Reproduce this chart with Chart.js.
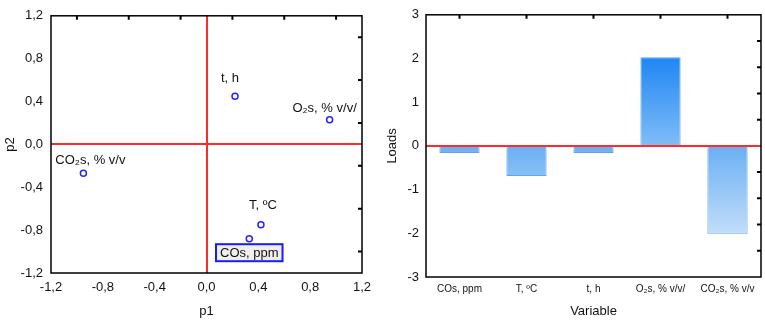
<!DOCTYPE html>
<html>
<head>
<meta charset="utf-8">
<script src="https://cdn.jsdelivr.net/npm/chart.js@4.4.1/dist/chart.umd.min.js"></script>
<style>
html,body{margin:0;padding:0;background:#fff;}
#wrap{position:relative;width:765px;height:320px;overflow:hidden;}
#c1{position:absolute;left:0;top:0;}
#c2{position:absolute;left:380px;top:0;}
</style>
</head>
<body>
<div id="wrap">
<canvas id="c1" width="380" height="320"></canvas>
<canvas id="c2" width="385" height="320"></canvas>
</div>
<script>
// ---- data ----
const variables = ["COs, ppm", "T, ºC", "t, h", "O₂s, % v/v/", "CO₂s, % v/v"];
const p1Values = [0.33, 0.42, 0.22, 0.95, -0.95];
const p2Values = [-0.88, -0.75, 0.45, 0.23, -0.27];
const loads = [-0.16, -0.69, -0.16, 2.03, -2.01];
const scatterMinorTicks = [-1.0, -0.6, -0.2, 0.2, 0.6, 1.0];
const loadsMinorTicks = [-2.4, -1.8, -1.2, -0.6, 0.6, 1.2, 1.8, 2.4];

const FONT = "'Liberation Sans', Arial, sans-serif";
Chart.defaults.font.family = FONT;
Chart.defaults.color = '#111';
Chart.defaults.animation = false;

const comma = v => (Math.abs(v) < 1e-9 ? 0 : v).toFixed(1).replace('.', ',');

// ---- frame + inner ticks plugin ----
function framePlugin(opts) {
  return {
    id: 'frame_' + opts.id,
    beforeDatasetsDraw(chart) {
      const ctx = chart.ctx, a = chart.chartArea;
      const xs = chart.scales.x, ys = chart.scales.y;
      ctx.save();
      if (opts.redBehind) {
        ctx.strokeStyle = '#ff2b2b'; ctx.lineWidth = 2;
        ctx.beginPath();
        const x0 = Math.round(xs.getPixelForValue(0)), y0 = Math.round(ys.getPixelForValue(0));
        ctx.moveTo(x0, a.top); ctx.lineTo(x0, a.bottom);
        ctx.moveTo(a.left, y0); ctx.lineTo(a.right, y0);
        ctx.stroke();
      }
      ctx.restore();
    },
    afterDatasetsDraw(chart) {
      const ctx = chart.ctx, a = chart.chartArea;
      const xs = chart.scales.x, ys = chart.scales.y;
      ctx.save();
      if (opts.redFront) {
        ctx.strokeStyle = '#ff2b2b'; ctx.lineWidth = 2;
        const y0 = Math.round(ys.getPixelForValue(0));
        ctx.beginPath(); ctx.moveTo(a.left, y0); ctx.lineTo(a.right, y0); ctx.stroke();
      }
      ctx.strokeStyle = '#000'; ctx.lineWidth = 1.5;
      ctx.strokeRect(a.left, a.top, a.right - a.left, a.bottom - a.top);
      ctx.lineWidth = 2;
      ctx.beginPath();
      opts.topTicks(chart).forEach(px => { ctx.moveTo(px, a.top); ctx.lineTo(px, a.top + 4); });
      opts.rightTicks.forEach(v => { const py = ys.getPixelForValue(v); ctx.moveTo(a.right, py); ctx.lineTo(a.right - 4, py); });
      ctx.stroke();
      ctx.restore();
    }
  };
}

// ---- scatter labels plugin ----
const labelPlugin = {
  id: 'pointLabels',
  afterDatasetsDraw(chart) {
    const ctx = chart.ctx;
    const meta = chart.getDatasetMeta(0);
    // placement offsets relative to each point (styling, not data)
    const place = [
      {dx: 0, dy: 14, boxed: true},
      {dx: 2, dy: -20},
      {dx: -5, dy: -18},
      {dx: -5, dy: -12},
      {dx: 7, dy: -13}
    ];
    ctx.save();
    ctx.font = '13px ' + FONT;
    ctx.textAlign = 'center';
    ctx.textBaseline = 'middle';
    meta.data.forEach((pt, i) => {
      const p = place[i];
      const x = pt.x + p.dx, y = pt.y + p.dy;
      const txt = variables[i];
      if (p.boxed) {
        const w = ctx.measureText(txt).width + 8, h = 17;
        ctx.fillStyle = '#efefef';
        ctx.fillRect(x - w / 2, y - h / 2, w, h);
        ctx.strokeStyle = '#1a1aff'; ctx.lineWidth = 2;
        ctx.strokeRect(x - w / 2, y - h / 2, w, h);
      }
      ctx.fillStyle = '#111';
      ctx.fillText(txt, x, y + 0.5);
    });
    ctx.restore();
  }
};

// ---- left: scatter p1/p2 ----
new Chart(document.getElementById('c1'), {
  type: 'scatter',
  data: {
    datasets: [{
      data: p1Values.map((v, i) => ({x: v, y: p2Values[i]})),
      pointRadius: 3,
      pointBorderWidth: 1.5,
      pointBorderColor: '#2424ff',
      pointBackgroundColor: '#ffffff'
    }]
  },
  options: {
    responsive: false,
    devicePixelRatio: 1,
    layout: {padding: {left: 0, top: 8, right: 18, bottom: 0}},
    plugins: {legend: {display: false}, tooltip: {enabled: false}},
    scales: {
      x: {
        type: 'linear', min: -1.2, max: 1.2,
        grid: {display: false, drawTicks: false}, border: {display: false},
        ticks: {stepSize: 0.4, padding: 7, font: {size: 13}, callback: comma},
        title: {display: true, text: 'p1', font: {size: 13}, padding: {top: 0, bottom: 1}},
        afterFit: s => { s.height = 47; }
      },
      y: {
        type: 'linear', min: -1.2, max: 1.2,
        grid: {display: false, drawTicks: false}, border: {display: false},
        ticks: {stepSize: 0.4, padding: 8, font: {size: 13}, callback: comma},
        title: {display: true, text: 'p2', font: {size: 13}, padding: {top: 3, bottom: 0}},
        afterFit: s => { s.width = 51; }
      }
    }
  },
  plugins: [framePlugin({
    id: 'l', redBehind: true,
    topTicks: ch => scatterMinorTicks.map(v => ch.scales.x.getPixelForValue(v)),
    rightTicks: scatterMinorTicks
  }), labelPlugin]
});

// ---- right: loads bar chart ----
const maxLoad = Math.max(...loads), minLoad = Math.min(...loads);
function barFill(c) {
  const ch = c.chart;
  const ys = ch.scales.y;
  if (!ys || !ch.chartArea) return '#6aaef3';
  const v = loads[c.dataIndex];
  const p0 = ys.getPixelForValue(0);
  if (v >= 0) {
    const g = ch.ctx.createLinearGradient(0, ys.getPixelForValue(maxLoad), 0, p0);
    g.addColorStop(0, '#1f86f3');
    g.addColorStop(1, '#80bdf7');
    return g;
  }
  const g = ch.ctx.createLinearGradient(0, p0, 0, ys.getPixelForValue(minLoad));
  g.addColorStop(0, '#6aaff4');
  g.addColorStop(1, '#c2def9');
  return g;
}

new Chart(document.getElementById('c2'), {
  type: 'bar',
  data: {
    labels: variables,
    datasets: [{
      data: loads,
      backgroundColor: barFill,
      borderColor: '#5ea3ec',
      borderWidth: 1,
      borderSkipped: false,
      barPercentage: 0.6,
      categoryPercentage: 1.0
    }]
  },
  options: {
    responsive: false,
    devicePixelRatio: 1,
    layout: {padding: {left: 0, top: 8, right: 4, bottom: 0}},
    plugins: {legend: {display: false}, tooltip: {enabled: false}},
    scales: {
      x: {
        grid: {display: false, drawTicks: false}, border: {display: false},
        ticks: {padding: 6, font: {size: 10}, maxRotation: 0, autoSkip: false},
        title: {display: true, text: 'Variable', font: {size: 13}, padding: {top: 0, bottom: 1}},
        afterFit: s => { s.height = 43; }
      },
      y: {
        min: -3, max: 3,
        grid: {display: false, drawTicks: false}, border: {display: false},
        ticks: {stepSize: 1, padding: 7, font: {size: 13}},
        title: {display: true, text: 'Loads', font: {size: 13}, padding: {top: 5, bottom: 0}},
        afterFit: s => { s.width = 46; }
      }
    }
  },
  plugins: [framePlugin({
    id: 'r', redFront: true,
    topTicks: ch => variables.map((_, i) => ch.scales.x.getPixelForValue(i)),
    rightTicks: loadsMinorTicks
  })]
});
</script>
</body>
</html>
